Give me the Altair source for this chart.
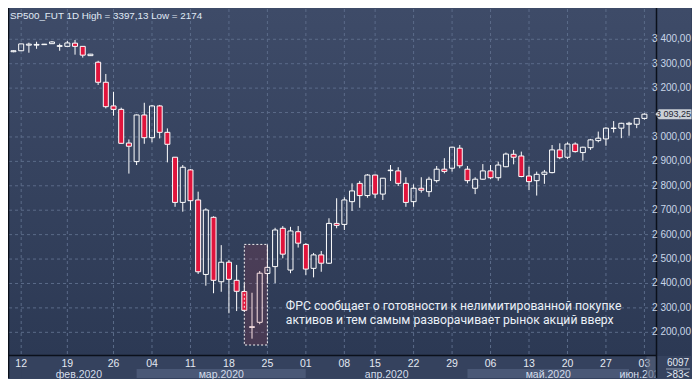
import altair as alt
import pandas as pd

# ---------------- data ----------------
candle_idx = list(range(-1, 82))
opens = [3349, 3353, 3376, 3376, 3378, 3382, 3371, 3371, 3384, 3371, 3333, 3306, 3224, 3127, 3113, 2975,
         2899, 3090, 2997, 3127, 3019, 2917, 2732, 2865, 2742, 2437, 2671, 2407, 2487, 2413, 2367, 2220,
         2241, 2441, 2469, 2626, 2455, 2612, 2560, 2462, 2517, 2483, 2646, 2642, 2735, 2810, 2760, 2844,
         2766, 2862, 2861, 2810, 2735, 2790, 2776, 2821, 2868, 2872, 2954, 2868, 2790, 2827, 2861, 2833,
         2878, 2929, 2922, 2840, 2821, 2847, 2854, 2947, 2917, 2971, 2936, 2956, 2985, 2992, 3035, 3036,
         3052, 3052, 3076]
closes = [3353, 3381, 3380, 3379, 3380, 3389, 3374, 3385, 3371, 3335, 3339, 3224, 3124, 3113, 2974, 2962,
          3090, 2997, 3127, 3019, 2970, 2732, 2876, 2739, 2448, 2701, 2413, 2487, 2417, 2368, 2290, 2223,
          2442, 2466, 2619, 2520, 2615, 2565, 2459, 2517, 2483, 2646, 2638, 2742, 2779, 2760, 2844, 2766,
          2831, 2864, 2810, 2732, 2790, 2782, 2827, 2868, 2859, 2958, 2882, 2821, 2827, 2861, 2833, 2885,
          2930, 2917, 2838, 2817, 2847, 2856, 2947, 2915, 2971, 2940, 2958, 2988, 2995, 3036, 3036, 3056,
          3056, 3076, 3093.25]
highs = [3355, 3382, 3386, 3390, 3381, 3393, 3382, 3393, 3397, 3372, 3340, 3312, 3258, 3185, 3120, 2990,
         3092, 3140, 3131, 3131, 3035, 2918, 2885, 2869, 2776, 2708, 2675, 2557, 2496, 2476, 2400, 2362,
         2451, 2560, 2628, 2635, 2632, 2635, 2565, 2525, 2533, 2667, 2749, 2753, 2810, 2820, 2848, 2846,
         2832, 2885, 2876, 2835, 2806, 2835, 2837, 2881, 2913, 2960, 2967, 2881, 2835, 2889, 2885, 2899,
         2936, 2947, 2940, 2878, 2858, 2865, 2967, 2974, 2978, 2978, 2960, 2992, 3022, 3040, 3065, 3058,
         3062, 3078, 3097]
lows = [3347, 3352, 3345, 3361, 3377, 3381, 3353, 3370, 3337, 3325, 3332, 3213, 3117, 3087, 2972, 2850,
        2885, 2972, 2978, 2994, 2896, 2714, 2694, 2701, 2439, 2391, 2360, 2366, 2278, 2287, 2283, 2174,
        2233, 2400, 2401, 2503, 2442, 2547, 2435, 2425, 2448, 2480, 2626, 2619, 2697, 2710, 2751, 2749,
        2742, 2820, 2799, 2714, 2714, 2772, 2755, 2813, 2851, 2858, 2872, 2810, 2766, 2825, 2828, 2821,
        2876, 2888, 2835, 2783, 2760, 2808, 2851, 2909, 2910, 2936, 2903, 2947, 2978, 2964, 3018, 2995,
        3005, 3036, 3071]

day_tick_idx = [0, 6, 12, 17, 22, 27, 32, 37, 42, 46, 51, 56, 61, 66, 71, 76, 81]
day_tick_lbl = ["12", "19", "26", "04", "11", "18", "25", "01", "08", "15", "22", "29", "06", "13", "20", "27", "03"]

month_names = ["фев.2020", "мар.2020", "апр.2020", "май.2020", "июн.2020"]
month_start = [0, 15, 37, 58, 79]
month_end = [15, 37, 58, 79, 82.5]
month_shade = ["dark", "light", "dark", "light", "dark"]

price_ticks = [2200, 2300, 2400, 2500, 2600, 2700, 2800, 2900, 3000, 3100, 3200, 3300, 3400]
# the 3 100,00 label sits under the last-price tag in the reference, so it is not shown
label_ticks = [2200, 2300, 2400, 2500, 2600, 2700, 2800, 2900, 3000, 3200, 3300, 3400]
label_text = ["2 200,00", "2 300,00", "2 400,00", "2 500,00", "2 600,00", "2 700,00", "2 800,00",
              "2 900,00", "3 000,00", "3 200,00", "3 300,00", "3 400,00"]

title_text = "SP500_FUT 1D High = 3397,13 Low = 2174"
last_price = [3093.25]
last_price_lbl = ["3 093,25"]

highlight_idx = [29, 32]
highlight_price = [2148, 2560]

note_lines = ["ФРС сообщает о готовности к нелимитированной покупке",
              "активов и тем самым разворачивает рынок акций вверх"]
note_idx = 34.4
note_price = [2308, 2251]

corner_text = ["6097", ">83<"]

# ---------------- geometry / scales ----------------
W, H = 648, 347
PAD_R, PAD_B = 35, 23
XR = W + PAD_R - 1      # right-most drawable value inside the canvas
YB = H + PAD_B - 1      # bottom-most drawable value inside the canvas
xs = alt.Scale(domain=[-0.934, 81.985], nice=False, zero=False)
ys = alt.Scale(domain=[2103, 3524], nice=False, zero=False)
FONT = "Liberation Sans"

cd = pd.DataFrame({"i": candle_idx, "open": opens, "close": closes, "high": highs, "low": lows})
cd["top"] = cd[["open", "close"]].max(axis=1)
cd["bot"] = cd[["open", "close"]].min(axis=1)
cd["dir"] = ["up" if c >= o else "down" for o, c in zip(opens, closes)]

one = pd.DataFrame({"k": [0]})
X = lambda f: alt.X(f, scale=xs, axis=None)
Y = lambda f: alt.Y(f, scale=ys, axis=None)

grid_col = "#5b6b89"

bg = alt.Chart(one).mark_rect(
    color=alt.Gradient(gradient="linear",
                       stops=[alt.GradientStop(color="#3e4b68", offset=0),
                              alt.GradientStop(color="#2c3954", offset=1)],
                       x1=0, x2=0, y1=0, y2=1)
).encode(x=alt.value(-1), x2=alt.value(XR), y=alt.value(-1), y2=alt.value(H))

months = pd.DataFrame({"m": month_names, "s": month_start, "e": month_end, "shade": month_shade})
months["c"] = (months["s"] + months["e"]) / 2
month_bands = alt.Chart(months).mark_rect(clip=False).encode(
    x=X("s:Q"), x2="e:Q", y=alt.value(360), y2=alt.value(YB),
    color=alt.Color("shade:N", scale=alt.Scale(domain=["dark", "light"], range=["#35425e", "#4a5876"]),
                    legend=None))
month_text = alt.Chart(months).mark_text(font=FONT, fontSize=10.5, color="#d3dcea",
                                         baseline="middle", align="center").encode(
    x=X("c:Q"), y=alt.value(365.5), text="m:N")

hgrid = alt.Chart(pd.DataFrame({"p": price_ticks})).mark_rule(
    color=grid_col, strokeDash=[3, 3], strokeWidth=1).encode(
    y=Y("p:Q"), x=alt.value(0), x2=alt.value(W))
vgrid = alt.Chart(pd.DataFrame({"i": day_tick_idx})).mark_rule(
    color=grid_col, strokeDash=[3, 3], strokeWidth=1).encode(
    x=X("i:Q"), y=alt.value(0), y2=alt.value(H))

wick_hi = alt.Chart(cd).mark_rule(color="white", strokeWidth=1, clip=True).encode(
    x=X("i:Q"), y=Y("high:Q"), y2="top:Q")
wick_lo = alt.Chart(cd).mark_rule(color="white", strokeWidth=1, clip=True).encode(
    x=X("i:Q"), y=Y("bot:Q"), y2="low:Q")
bodies = alt.Chart(cd).mark_bar(size=5, stroke="white", strokeWidth=1, clip=True).encode(
    x=X("i:Q"), y=Y("open:Q"), y2="close:Q",
    fill=alt.Fill("dir:N", scale=alt.Scale(domain=["up", "down"], range=["transparent", "#e0143c"]),
                  legend=None))

hl = alt.Chart(pd.DataFrame({"x1": [highlight_idx[0]], "x2": [highlight_idx[1]],
                             "y1": [highlight_price[0]], "y2": [highlight_price[1]]})).mark_rect(
    fill="#dd3d48", fillOpacity=0.15, stroke="#f2f2f2", strokeDash=[2, 2], strokeWidth=1).encode(
    x=X("x1:Q"), x2="x2:Q", y=Y("y1:Q"), y2="y2:Q")

note = alt.Chart(pd.DataFrame({"t": note_lines, "p": note_price, "i": [note_idx] * 2})).mark_text(
    font="Roboto", fontSize=12.2, color="#eaf0f7", align="left", baseline="middle").encode(
    x=X("i:Q"), y=Y("p:Q"), text="t:N")

title = alt.Chart(pd.DataFrame({"t": [title_text]})).mark_text(
    font=FONT, fontSize=9.8, color="#e0eaf6",
    align="left", baseline="middle").encode(x=alt.value(1), y=alt.value(6.5), text="t:N")

days = alt.Chart(pd.DataFrame({"i": day_tick_idx, "t": day_tick_lbl})).mark_text(
    font=FONT, fontSize=10.5, color="#e3e9f2", align="center", baseline="middle").encode(
    x=X("i:Q"), y=alt.value(354.5), text="t:N")

last_col = alt.Chart(one).mark_rect(color="#56627c", opacity=0.6).encode(
    x=alt.value(637.5), x2=alt.value(648), y=alt.value(H), y2=alt.value(YB))

corner_bg = alt.Chart(one).mark_rect(color="#35425e").encode(
    x=alt.value(648), x2=alt.value(XR), y=alt.value(H), y2=alt.value(YB))
corner = alt.Chart(pd.DataFrame({"t": corner_text, "y": [354, 365.5]})).mark_text(
    font=FONT, fontSize=10, color="#e3e9f2", align="center", baseline="middle").encode(
    x=alt.value(669), y=alt.Y("y:Q", scale=None, axis=None), text="t:N")
corner_line = alt.Chart(one).mark_rule(color="#9aa6ba", strokeWidth=1).encode(
    x=alt.value(657), x2=alt.value(681), y=alt.value(360))

border_b = alt.Chart(one).mark_rule(color="#0b101b", strokeWidth=1.5).encode(
    x=alt.value(-1), x2=alt.value(W), y=alt.value(H - 0.5))
border_r = alt.Chart(one).mark_rule(color="#0b101b", strokeWidth=1.5).encode(
    x=alt.value(W - 0.5), y=alt.value(-1), y2=alt.value(YB))
border_l = alt.Chart(one).mark_rule(color="#0b101b", strokeWidth=1.5).encode(
    x=alt.value(-0.5), y=alt.value(-1), y2=alt.value(YB))

plabels = alt.Chart(pd.DataFrame({"p": label_ticks, "t": label_text})).mark_text(
    font=FONT, fontSize=10, color="#c9d6e8", align="right", baseline="middle").encode(
    x=alt.value(682), y=Y("p:Q"), text="t:N")

tag_path = "M-1,0L-0.82,-0.28L1,-0.28L1,0.28L-0.82,0.28Z"
tag = alt.Chart(pd.DataFrame({"p": last_price})).mark_point(
    shape=tag_path, filled=True, size=1296, color="#cbd0d7", opacity=1).encode(
    x=alt.value(664.5), y=Y("p:Q"))
tag_text = alt.Chart(pd.DataFrame({"p": last_price, "t": last_price_lbl})).mark_text(
    font=FONT, fontSize=9, color="#1f2633", align="right", baseline="middle").encode(
    x=alt.value(682), y=Y("p:Q"), text="t:N")

chart = alt.layer(
    bg, month_bands, month_text, hgrid, vgrid, wick_hi, wick_lo, bodies, hl, note, title,
    days, last_col, corner_bg, corner, corner_line, border_b, border_r, border_l, plabels, tag, tag_text
).properties(
    width=W, height=H,
    autosize=alt.AutoSizeParams(type="none"),
    padding={"left": 1, "top": 1, "right": PAD_R, "bottom": PAD_B},
    background="#35425e",
).configure_view(stroke=None)

chart.save("out.html", embed_options={"renderer": "svg", "actions": False})
